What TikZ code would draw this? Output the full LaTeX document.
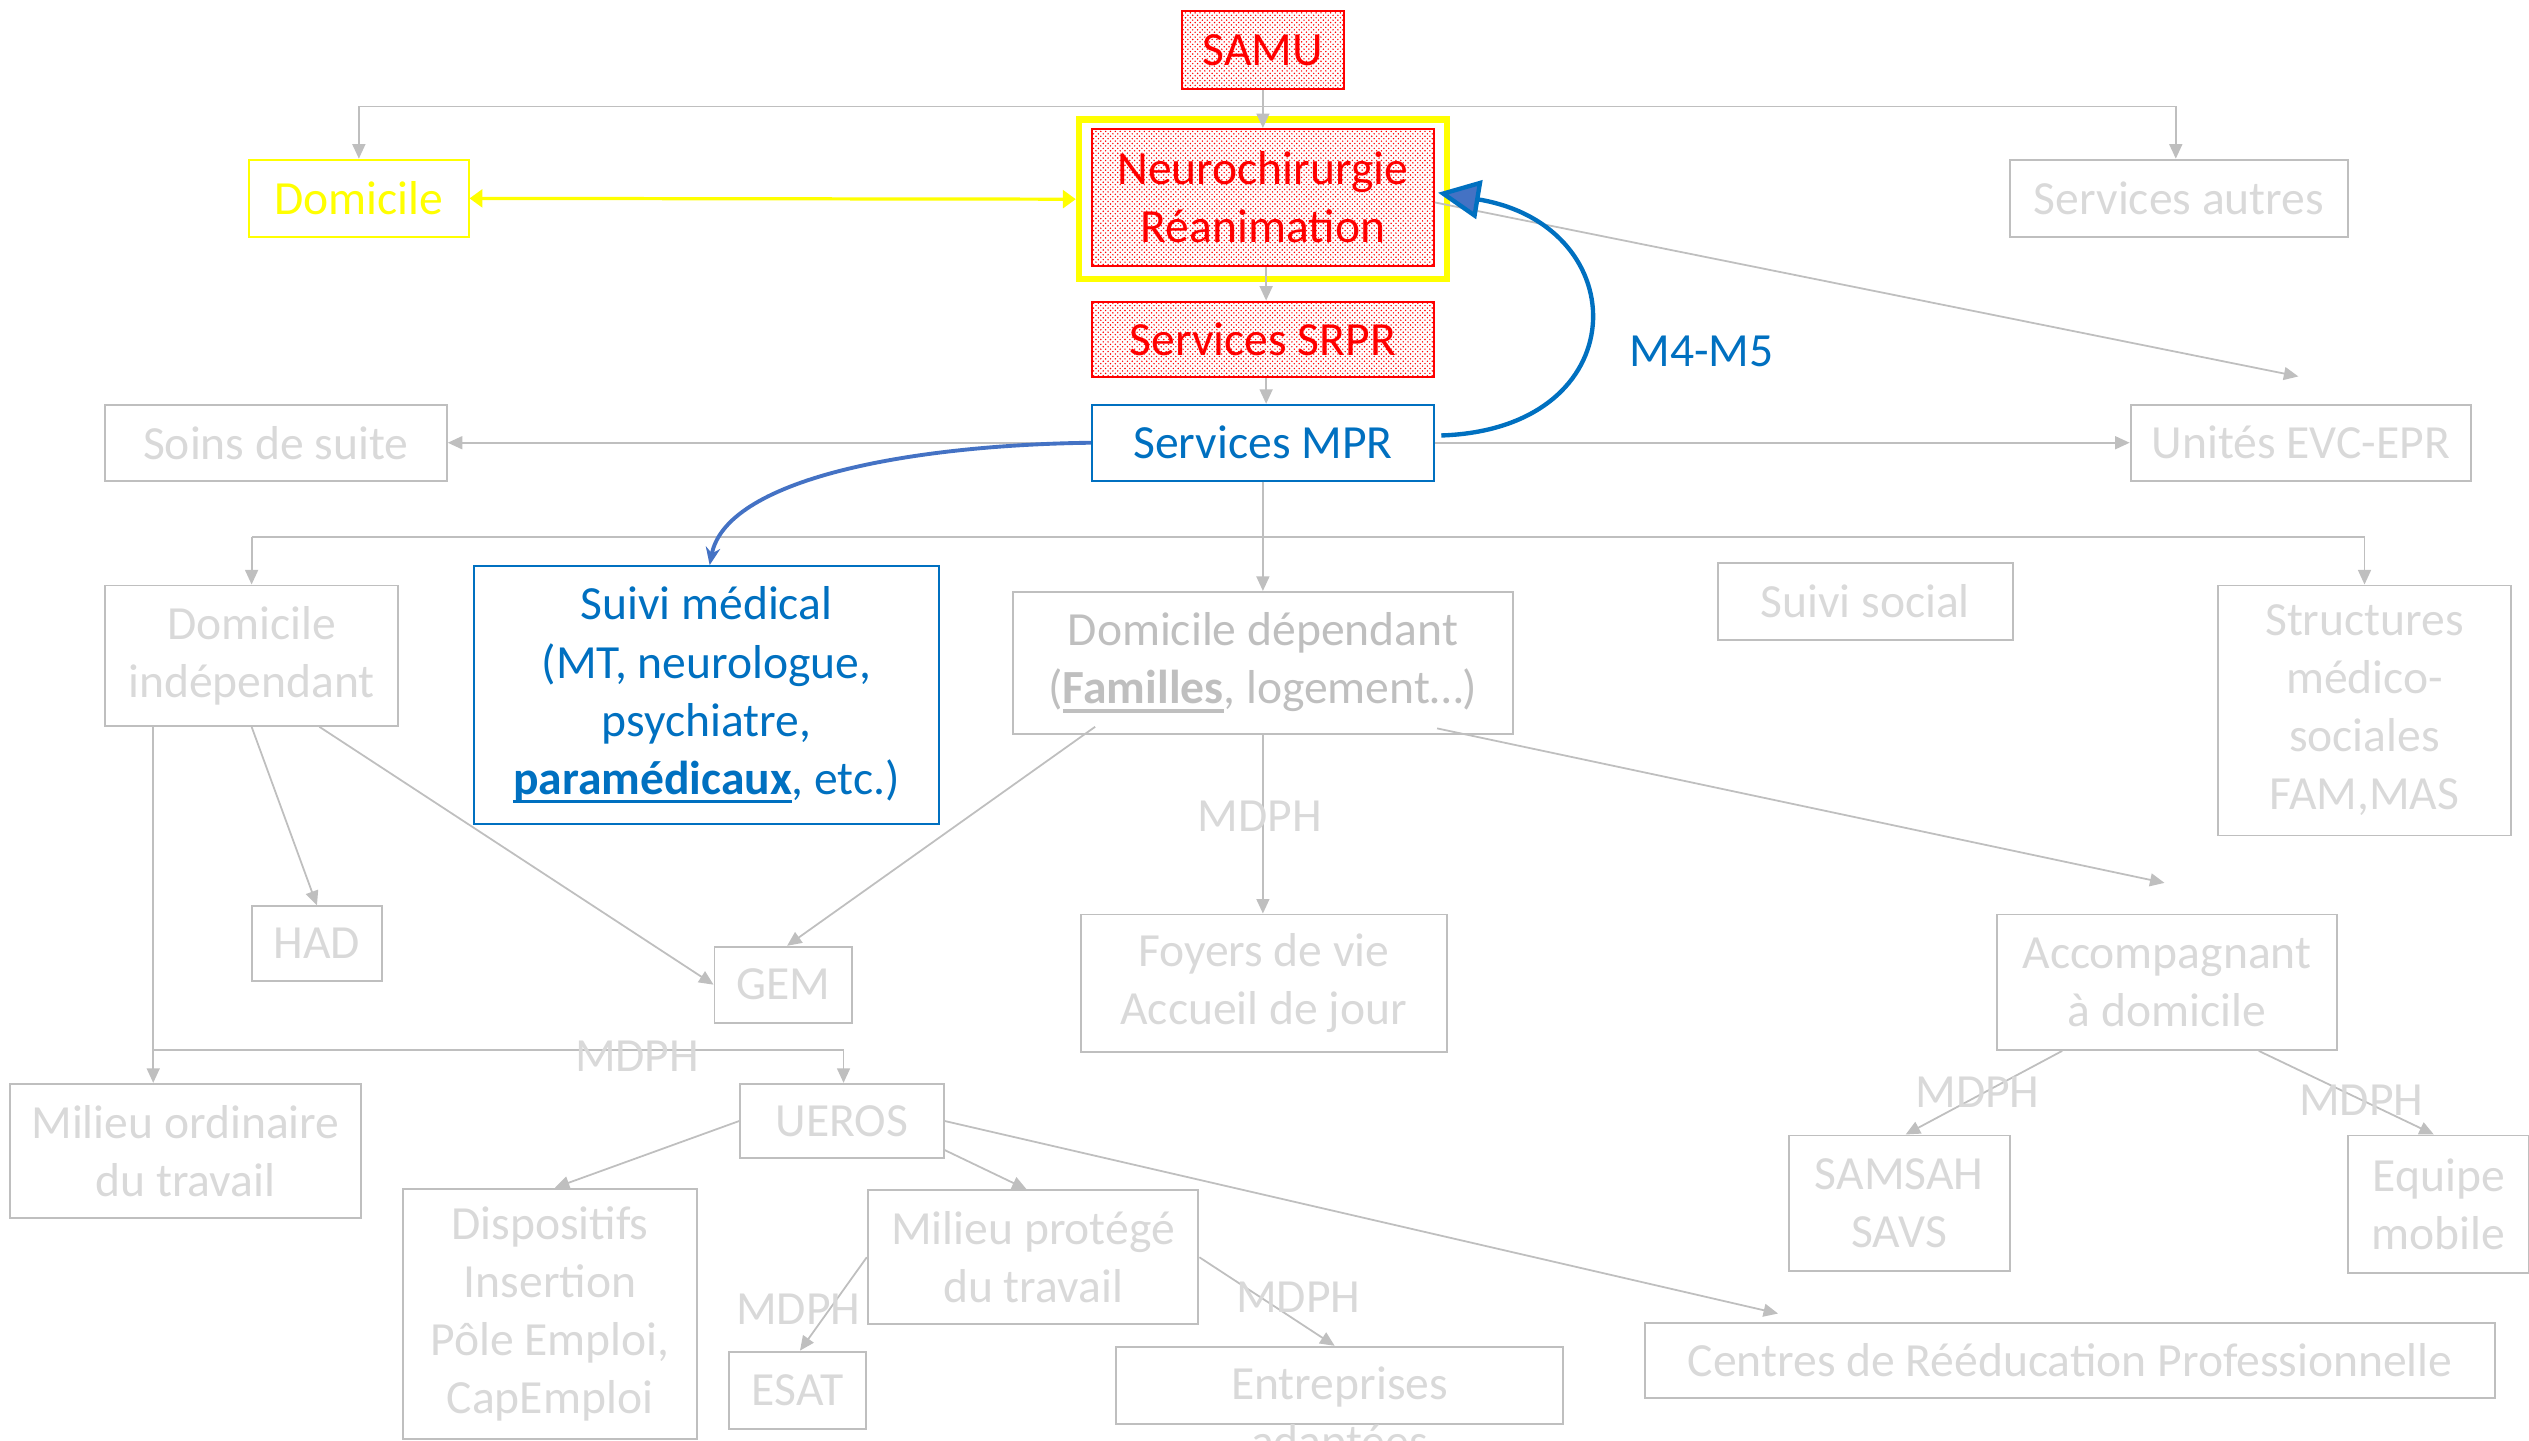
\documentclass[tikz,border=0pt]{standalone}
\usepackage{fontspec}
\setmainfont{Carlito}
\usetikzlibrary{arrows.meta,patterns,calc}
\definecolor{gline}{HTML}{BFBFBF}
\definecolor{gtext}{HTML}{D9D9D9}
\definecolor{dtext}{HTML}{BFBFBF}
\definecolor{mblue}{HTML}{0070C0}
\definecolor{lblue}{HTML}{4472C4}
\definecolor{myred}{HTML}{FF0000}
\definecolor{myyellow}{HTML}{FFFF00}
\newcommand\myul[1]{\setbox0=\hbox{#1}\dp0=0pt\vtop{\box0\kern3.5pt\hrule height 2.2pt}}
\begin{document}
\begin{tikzpicture}[x=1pt,y=-1pt,
  every node/.style={font=\fontsize{29.5}{36}\selectfont},
  gbox/.style={draw=gline, line width=1.2pt, text=gtext, align=center, inner sep=0pt, rectangle},
  rbox/.style={draw=myred, line width=1.2pt, pattern=crosshatch dots, pattern color=myred, text=myred, align=center, inner sep=0pt},
  bbox/.style={draw=mblue, line width=1.2pt, text=mblue, align=center, inner sep=0pt},
  ybox/.style={draw=myyellow, line width=1.2pt, text=myyellow, align=center, inner sep=0pt},
  glink/.style={draw=gline, line width=1.1pt},
  garrow/.style={draw=gline, line width=1.1pt, -{Triangle[length=9pt,width=8pt]}},
  lbl/.style={text=gtext, inner sep=0pt}
]
\useasboundingbox (0,0) rectangle (1568,893);
\clip (0,0) rectangle (1568,893);

% ---- nodes ----
\node[rbox, minimum width=100pt, minimum height=48pt] (samu) at (783,31) {SAMU};
\node[draw=myyellow, line width=4pt, minimum width=228pt, minimum height=99pt, inner sep=0pt] (neuroframe) at (783,123.5) {};
\node[rbox, minimum width=212pt, minimum height=85pt] (neuro) at (783,122.5) {Neurochirurgie\\Réanimation};
\node[rbox, minimum width=212pt, minimum height=47pt] (srpr) at (783,210.5) {Services SRPR};
\node[bbox, minimum width=212pt, minimum height=47pt] (mpr) at (783,274.5) {Services MPR};
\node[ybox, minimum width=136pt, minimum height=48pt] (dom) at (222.5,123) {Domicile};
\node[gbox, minimum width=210pt, minimum height=48pt] (autres) at (1351,123) {Services autres};
\node[gbox, minimum width=212pt, minimum height=47pt] (soins) at (171,274.5) {Soins de suite};
\node[gbox, minimum width=211pt, minimum height=47pt] (evc) at (1426.5,274.5) {Unités EVC-EPR};
\node[text=mblue, inner sep=0pt] (m45) at (1055,218) {M4-M5};

\node[gbox, minimum width=182pt, minimum height=87pt] (domind) at (156,406.5) {Domicile\\indépendant};
\node[bbox, minimum width=288pt, minimum height=160pt] (suivi) at (438,431) {Suivi médical\\(MT, neurologue,\\psychiatre,\\\myul{\textbf{paramédicaux}}, etc.)};
\node[gbox, text=dtext, minimum width=310pt, minimum height=88pt] (domdep) at (783,411) {Domicile dépendant\\(\myul{\textbf{Familles}}, logement…)};
\node[gbox, minimum width=183pt, minimum height=48pt] (social) at (1156.5,373) {Suivi social};
\node[gbox, minimum width=182pt, minimum height=155pt] (struct) at (1466,440.5) {Structures\\médico-\\sociales\\FAM,MAS};

\node[gbox, minimum width=81pt, minimum height=46pt] (had) at (196.5,585) {HAD};
\node[gbox, minimum width=85pt, minimum height=47pt] (gem) at (485.5,610.5) {GEM};
\node[gbox, minimum width=227pt, minimum height=85pt] (foyers) at (783.5,609.5) {Foyers de vie\\Accueil de jour};
\node[gbox, minimum width=211pt, minimum height=84pt] (accomp) at (1343.5,609) {Accompagnant\\à domicile};

\node[gbox, minimum width=218pt, minimum height=83pt] (milord) at (115,713.5) {Milieu ordinaire\\du travail};
\node[gbox, minimum width=126pt, minimum height=46pt] (ueros) at (522,695) {UEROS};
\node[gbox, minimum width=182pt, minimum height=155pt] (dispo) at (341,814.5) {Dispositifs\\Insertion\\Pôle Emploi,\\CapEmploi};
\node[gbox, minimum width=205pt, minimum height=83pt] (protege) at (640.5,779.5) {Milieu protégé\\du travail};
\node[gbox, minimum width=85pt, minimum height=48pt] (esat) at (494.5,862) {ESAT};
\node[gbox, minimum width=277pt, minimum height=48pt] (entre) at (830.5,859) {};
\node[lbl, align=center] (entretxt) at (830.5,878) {Entreprises\\adaptées};
\node[gbox, minimum width=527pt, minimum height=47pt] (centres) at (1283.5,843.5) {Centres de Rééducation Professionnelle};
\node[gbox, minimum width=137pt, minimum height=84pt] (samsah) at (1177.5,746) {SAMSAH\\SAVS};
\node[gbox, minimum width=112pt, minimum height=85pt] (equipe) at (1512,746.5) {Equipe\\mobile};

% ---- helper coordinates ----
\coordinate (topbar) at (783,66);
\coordinate (midbar) at (783,333);
\coordinate (lowbar) at (95,651);

% ---- connectors ----
\draw[glink] (dom.north |- topbar) -- ([xshift=-2pt]autres.north |- topbar);
\draw[garrow] (dom.north |- topbar) -- (dom.north);
\draw[garrow] ([xshift=-2pt]autres.north |- topbar) -- ([xshift=-2pt]autres.north);
\draw[garrow] (samu.south) -- (neuro.north);
\draw[draw=myyellow, line width=2pt, {Triangle[length=8pt,width=11pt]}-{Triangle[length=8pt,width=11pt]}] (dom.east) -- (neuroframe.west);
\draw[garrow] ([xshift=2pt]neuro.south) -- ([xshift=2pt]srpr.north);
\draw[garrow] ([xshift=2pt]srpr.south) -- ([xshift=2pt]mpr.north);
\draw[garrow] (mpr.west) -- (soins.east);
\draw[garrow] (mpr.east) -- (evc.west);
\draw[garrow] ([yshift=-3pt]neuro.east) -- ([xshift=-1.5pt,yshift=17pt]evc.north);

\draw[glink] (domind.north |- midbar) -- (struct.north |- midbar);
\draw[glink] (mpr.south) -- (midbar);
\draw[garrow] (midbar) -- (domdep.north);
\draw[garrow] (domind.north |- midbar) -- (domind.north);
\draw[garrow] (struct.north |- midbar) -- (struct.north);

\draw[garrow] ([xshift=-61pt]domind.south) -- ([xshift=-20pt]milord.north);
\draw[garrow] (lowbar) -| ([xshift=1pt]ueros.north);
\draw[garrow] (domind.south) -- (had.north);
\draw[garrow] ([xshift=42pt]domind.south) -- (gem.west);
\draw[garrow] ([xshift=-104pt,yshift=5pt]domdep.south) -- ([xshift=2.5pt]gem.north);
\draw[garrow] (domdep.south) -- (foyers.north -| domdep.south);
\draw[garrow] ([xshift=108pt,yshift=4pt]domdep.south) -- ([xshift=-1.5pt,yshift=19pt]accomp.north);
\draw[garrow] ([xshift=-65pt]accomp.south) -- ([xshift=4pt]samsah.north);
\draw[garrow] ([xshift=57pt]accomp.south) -- ([xshift=-3pt]equipe.north);
\draw[garrow] (ueros.west) -- ([xshift=3pt]dispo.north);
\draw[garrow] ([yshift=-18pt]ueros.east) -- ([xshift=-4pt]protege.north);
\draw[garrow] (ueros.east) -- ([xshift=83pt,yshift=5pt]centres.north west);
\draw[garrow] (protege.west) -- ([xshift=1.5pt]esat.north);
\draw[garrow] (protege.east) -- ([xshift=-3pt]entre.north);

% blue curves
\draw[draw=mblue, line width=2.7pt, -{Triangle[length=26pt,width=24pt,fill=lblue]}]
  ([xshift=4pt,yshift=4.5pt]mpr.east) .. controls (1015,266) and (1015,140) .. ([xshift=2pt,yshift=3pt]neuro.east);
\draw[draw=lblue, line width=2.4pt, -{Stealth[length=11pt,width=9pt]}]
  (mpr.west) .. controls (560,276) and (450,298) .. ([xshift=2pt]suivi.north);

% MDPH labels
\node[lbl] (mdph1) at (781,506) {MDPH};
\node[lbl] (mdph2) at (395,655) {MDPH};
\node[lbl] (mdph3) at (495,812) {MDPH};
\node[lbl] (mdph4) at (805,804) {MDPH};
\node[lbl] (mdph5) at (1226,677) {MDPH};
\node[lbl] (mdph6) at (1464,682) {MDPH};
\end{tikzpicture}
\end{document}
